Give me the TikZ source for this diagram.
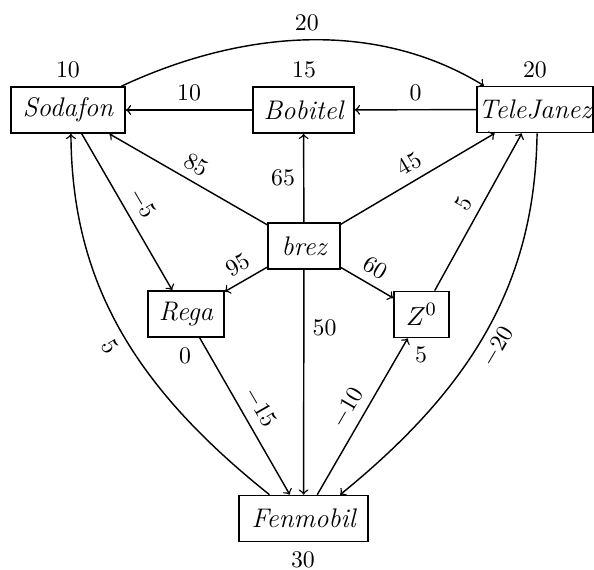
\documentclass[tikz,border=0pt]{standalone}
\begin{document}
\tikzset{
  box/.style={draw, line width=0.7pt, inner sep=0pt, minimum height=19.3pt, font=\fontsize{11.3pt}{13pt}\selectfont\itshape},
  edge/.style={->, line width=0.6pt},
  lab/.style={inner sep=3.4pt},
  val/.style={inner sep=0pt},
}
\begin{tikzpicture}[x=0.42pt, y=-0.42pt]
\path[use as bounding box] (0,0) rectangle (594,570);
% nodes
\node[box, minimum width=47.9pt] (so) at (68,110) {Sodafon};
\node[box, minimum width=42.4pt] (bo) at (303.5,110) {Bobitel};
\node[box, minimum width=48.7pt] (te) at (535,109.5) {TeleJanez};
\node[box, minimum width=30.2pt] (br) at (304,246) {brez};
\node[box, minimum width=31.9pt] (re) at (186,314) {Rega};
\node[box, minimum width=23.1pt] (z) at (421.5,314.5) {$Z^0$};
\node[box, minimum width=54.2pt] (fe) at (303.5,518.5) {Fenmobil};
% values
\node[val] (so-v) at (68,70) {10};
\node[val] (bo-v) at (304,70) {15};
\node[val] (te-v) at (535,70) {20};
\node[val] (fe-v) at (303,560) {30};
\node[val] (re-v) at (185,356) {0};
\node[val] (z-v) at (421,355) {5};
% straight edges
\draw[edge] (bo) -- node[lab, above] {10} (so);
\draw[edge] (te) -- node[lab, above] {0} (bo);
\draw[edge] (br) -- node[lab, above, sloped] {85} (so);
\draw[edge] (br) -- node[lab, left] {65} (bo);
\draw[edge] (br) -- node[lab, above, sloped] {45} (te);
\draw[edge] (br) -- node[lab, above, sloped] {95} (re);
\draw[edge] (br) -- node[lab, above, sloped] {60} (z);
\draw[edge] (br) -- node[lab, right, pos=0.26] {50} (fe);
\draw[edge] (so) -- node[lab, above, sloped] {$-5$} (re);
\draw[edge] (re) -- node[lab, above, sloped] {$-15$} (fe);
\draw[edge] (fe) -- node[lab, above, sloped] {$-10$} (z);
\draw[edge] (z) -- node[lab, above, sloped] {5} (te);
% curved edges
\draw[edge] (so.24) .. controls (241.6,30.2) and (374.9,19) .. node[lab, above] {20} (te.155);
\draw[edge] (te.-85) .. controls (535,280) and (475,385) .. node[lab, below, sloped, pos=0.53] {$-20$} (fe.33);
\draw[edge] (fe.145) .. controls (132,385) and (72,280) .. node[lab, below, sloped, pos=0.47] {5} (so.-83);
\end{tikzpicture}
\end{document}
